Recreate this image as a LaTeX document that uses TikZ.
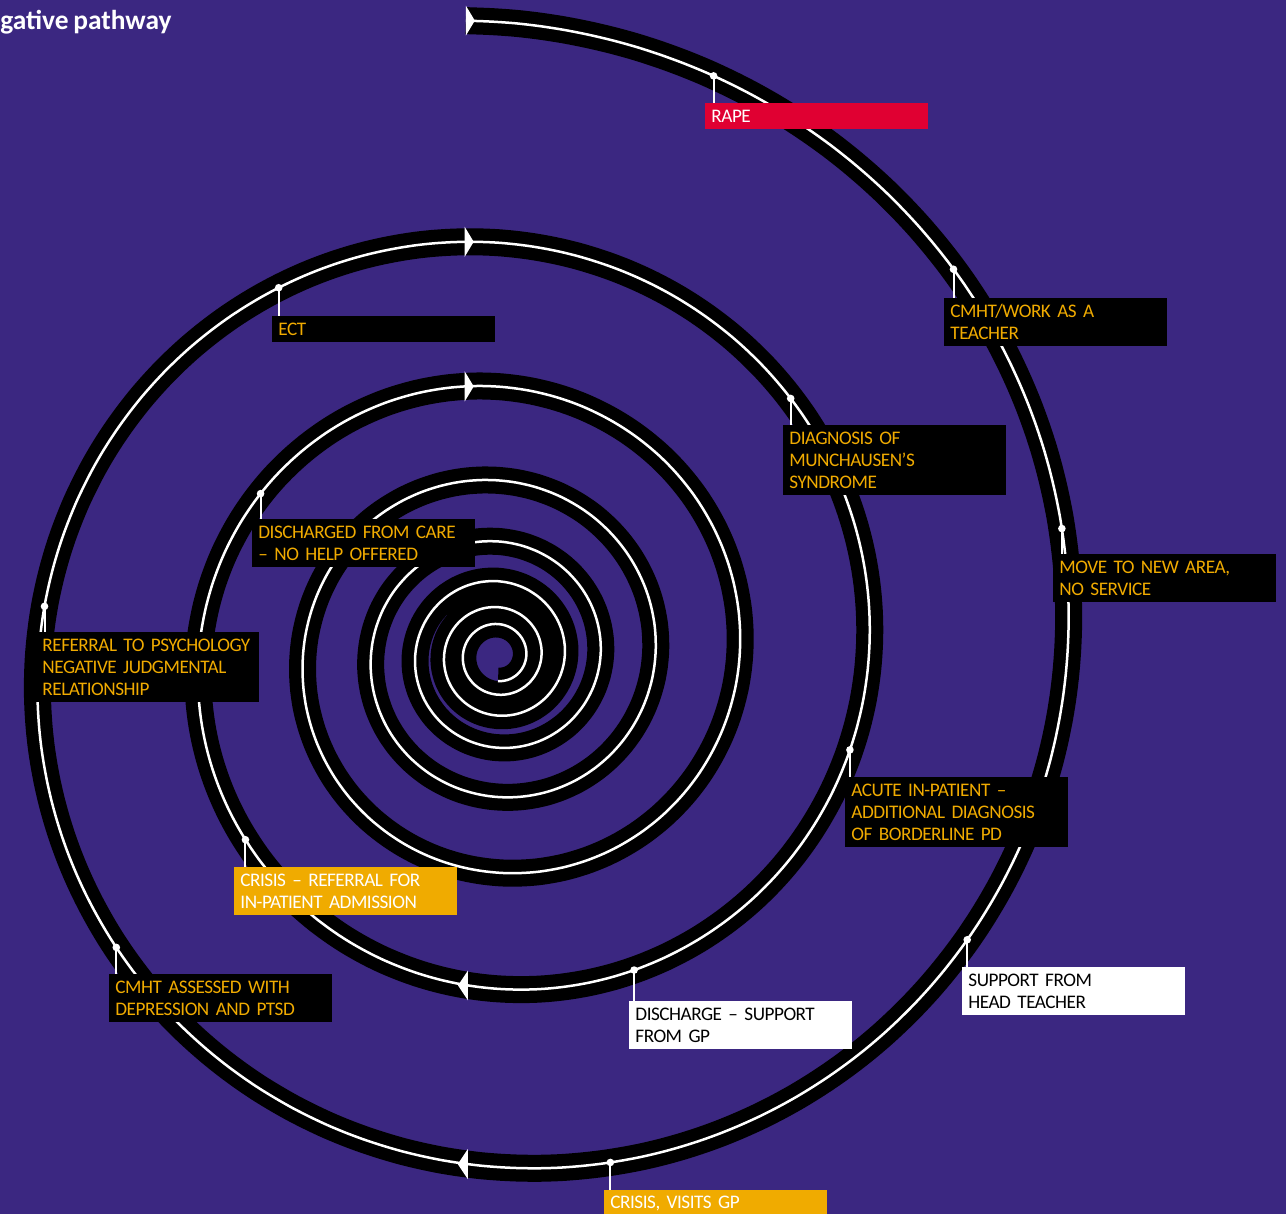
\documentclass[tikz,border=0pt]{standalone}
\usepackage{fontspec}
\setmainfont{Carlito}[WordSpace=0.75]
\newfontfamily\eventfont{Carlito}[Ligatures=TeX, WordSpace=0.6, LetterSpace=-2.5]
\usepackage{xcolor}
\usepackage{tikz}

\definecolor{nhspurple}{RGB}{59,39,129}
\definecolor{nhsyellow}{RGB}{240,171,0}
\definecolor{nhsred}{RGB}{224,0,50}

\tikzset{
  event/.style={anchor=north west, inner xsep=3pt, inner ysep=0pt,
    text width=105.5pt, align=left, font=\eventfont\fontsize{9.6}{11}\selectfont},
  onblack/.style={event, fill=black, text=nhsyellow},
  onred/.style={event, fill=nhsred, text=white},
  onwhite/.style={event, fill=white, text=black},
  onyellow/.style={event, fill=nhsyellow, text=white},
  oneline/.style={minimum height=13pt},
  twoline/.style={minimum height=24pt},
  threeline/.style={minimum height=35pt},
  pinline/.style={white, line width=1pt},
  pindot/.style={circle, fill=white, inner sep=0pt, minimum size=3.8pt},
  tipfill/.style={fill=white},
}

\begin{document}
\begin{tikzpicture}[x=0.5pt, y=-0.5pt,
    declare function={
      sr(\t)=633.6*exp(-0.0011913*\t);
      sx(\t)=498+sr(\t)*sin(\t);
      sy(\t)=655.6-sr(\t)*cos(\t);
    }]
    % background
    \fill[nhspurple] (0,0) rectangle (1286,1214);
    \useasboundingbox (0,0) rectangle (1286,1214);

    % title
    \node[anchor=base west, inner sep=0pt, text=white,
      font=\bfseries\fontsize{13.7}{16}\selectfont] (title) at (0,30) {gative pathway};

    % spiral
    \draw[black, line width=13.5pt] plot[smooth, domain=-2.9:2700, samples=1200] ({sx(\x)},{sy(\x)});
    \draw[white, line width=1.25pt] plot[smooth, domain=-2.9:2700, samples=1200] ({sx(\x)},{sy(\x)});

    % arrow heads
    \foreach \a in {-2.9, 355.4, 712.95}
      \fill[tipfill, shift={({sx(\a)},{sy(\a)})}] (0,-15) -- (9,0) -- (0,15) -- cycle;
    \foreach \a in {183.4, 545.2}
      \fill[tipfill, shift={({sx(\a)},{sy(\a)})}] (0,-15) -- (-10,0) -- (0,15) -- cycle;

    % outer turn
    \node[onred, oneline] (bRape) at (705,103) {RAPE};
    \node[onblack, twoline] (bTeacher) at (944,298) {CMHT/WORK AS A\\TEACHER};
    \node[onblack, twoline] (bMove) at (1053,554) {MOVE TO NEW AREA,\\NO SERVICE};
    \node[onwhite, twoline] (bHead) at (962,967) {SUPPORT FROM\\HEAD TEACHER};
    \node[onyellow, oneline] (bVisit) at (604,1190) {CRISIS, VISITS GP};
    \node[onblack, twoline] (bAssess) at (109,974) {CMHT ASSESSED WITH\\DEPRESSION AND PTSD};
    \node[onblack, threeline] (bPsych) at (36,632) {REFERRAL TO PSYCHOLOGY\\NEGATIVE JUDGMENTAL\\RELATIONSHIP};
    \node[onblack, oneline] (bEct) at (272,316) {ECT};

    % second turn
    \node[onblack, threeline] (bMunch) at (783,425) {DIAGNOSIS OF\\MUNCHAUSEN’S\\SYNDROME};
    \node[onblack, threeline] (bAcute) at (845,777) {ACUTE IN-PATIENT –\\ADDITIONAL DIAGNOSIS\\OF BORDERLINE PD};
    \node[onwhite, twoline] (bGp) at (629,1001) {DISCHARGE – SUPPORT\\FROM GP};
    \node[onyellow, twoline] (bAdmit) at (234,867) {CRISIS – REFERRAL FOR\\IN-PATIENT ADMISSION};
    \node[onblack, twoline] (bCare) at (252,519) {DISCHARGED FROM CARE\\– NO HELP OFFERED};

    % dots on the spiral and pins
    \foreach \ang/\lbl in {20.4/bRape, 49.7/bTeacher, 77.3/bMove, 121.2/bHead,
        167.5/bVisit, 232.6/bAssess, 276.2/bPsych, 329.2/bEct,
        408.7/bMunch, 465/bAcute, 516.6/bGp, 593.9/bAdmit, 664.3/bCare} {
      \node[pindot] (d\lbl) at ({sx(\ang)},{sy(\ang)}) {};
      \draw[pinline] (d\lbl.center) -- (d\lbl.center |- \lbl.north);
    }
\end{tikzpicture}
\end{document}
